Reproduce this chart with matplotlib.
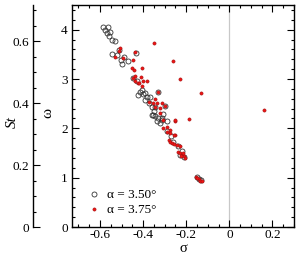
import matplotlib
matplotlib.use("Agg")
import matplotlib.pyplot as plt
import numpy as np
from matplotlib.ticker import MultipleLocator

plt.rcParams['font.family'] = ['Liberation Serif', 'DejaVu Serif']
plt.rcParams['font.size'] = 9.5

# alpha = 3.50 deg (open circles)
sigma_350 = [-0.585, -0.564, -0.575, -0.569, -0.553, -0.557, -0.546, -0.530,
             -0.546, -0.522, -0.504, -0.499, -0.433, -0.468, -0.510, -0.490,
             -0.445, -0.430, -0.414, -0.422, -0.399, -0.383, -0.367, -0.391,
             -0.375, -0.360, -0.360, -0.344, -0.329, -0.313, -0.290, -0.336,
             -0.321, -0.329, -0.344, -0.298, -0.352, -0.313, -0.406, -0.390,
             -0.350, -0.310, -0.290, -0.270, -0.260, -0.240, -0.220, -0.210,
             -0.230, -0.150, -0.140, -0.130]
omega_350 = [4.05, 4.06, 4.00, 3.93, 3.96, 3.87, 3.79, 3.78,
             3.50, 3.49, 3.38, 3.31, 3.52, 3.36, 3.58, 3.45,
             3.02, 2.95, 2.74, 2.68, 2.70, 2.64, 2.64, 2.58,
             2.51, 2.44, 2.27, 2.24, 2.20, 2.17, 2.14, 2.14,
             2.10, 2.74, 2.44, 2.45, 2.27, 2.20, 2.78, 2.72,
             2.35, 2.30, 1.95, 1.85, 1.72, 1.65, 1.55, 1.42,
             1.45, 1.02, 0.97, 0.95]

# alpha = 3.75 deg (red dots)
sigma_375 = [-0.507, -0.510, -0.530, -0.494, -0.437, -0.448, -0.452, -0.442,
             -0.403, -0.349, -0.262, -0.231, -0.130, -0.254, -0.185, 0.160,
             -0.445, -0.437, -0.426, -0.420, -0.402, -0.383, -0.406, -0.409,
             -0.440, -0.375, -0.352, -0.329, -0.336, -0.321, -0.344, -0.313,
             -0.298, -0.321, -0.306, -0.290, -0.274, -0.251, -0.251, -0.345,
             -0.306, -0.290, -0.274, -0.259, -0.282, -0.274, -0.266, -0.259,
             -0.243, -0.228, -0.236, -0.228, -0.220, -0.212, -0.205, -0.225,
             -0.215, -0.153, -0.143, -0.135, -0.126, -0.148]
omega_375 = [3.62, 3.56, 3.45, 3.42, 3.54, 3.38, 3.22, 3.18,
             3.23, 3.72, 3.37, 3.00, 2.72, 2.15, 2.18, 2.37,
             3.02, 2.95, 2.91, 2.92, 2.95, 2.95, 2.85, 3.04,
             3.06, 2.54, 2.51, 2.74, 2.52, 2.41, 2.44, 2.51,
             2.45, 2.31, 2.17, 2.03, 1.97, 1.87, 2.16, 2.60,
             2.00, 1.93, 1.90, 1.87, 1.76, 1.73, 1.70, 1.68,
             1.66, 1.64, 1.53, 1.49, 1.46, 1.43, 1.39, 1.43,
             1.51, 1.01, 0.97, 0.94, 0.94, 0.99]

W, H = 296, 254
fig = plt.figure(figsize=(W / 100, H / 100), dpi=100)

ax = fig.add_axes([72 / W, 27 / H, 222 / W, 222 / H])
ax.axvline(0, color='#c8c8c8', lw=0.9, zorder=0)
ax.plot(sigma_350, omega_350, 'o', ms=3.6, mfc='none', mec='#333333', mew=0.6,
        ls='none', label='α = 3.50°')
ax.plot(sigma_375, omega_375, 'o', ms=2.3, mfc='#f01515', mec='#a01010', mew=0.4,
        ls='none', label='α = 3.75°')

ax.set_xlim(-0.73, 0.30)
ax.set_ylim(0, 4.5)
ax.xaxis.set_minor_locator(MultipleLocator(0.05))
ax.yaxis.set_major_locator(MultipleLocator(1))
ax.yaxis.set_minor_locator(MultipleLocator(0.2))
ax.tick_params(which='both', direction='in', top=True, right=True, width=0.8)
ax.tick_params(which='major', length=5, labelsize=9.5, pad=3)
ax.tick_params(axis='x', which='major', pad=1.5)
ax.tick_params(which='minor', length=2.5)
ax.set_xticks([-0.6, -0.4, -0.2, 0, 0.2])
ax.set_xticklabels(['-0.6', '-0.4', '-0.2', '0', '0.2'])
for s in ax.spines.values():
    s.set_linewidth(1.0)
ax.legend(loc='lower left', bbox_to_anchor=(0.015, -0.005), frameon=False,
          handlelength=1.0, handletextpad=0.5, labelspacing=0.2, fontsize=9.5)

fig.text(183 / W, 1 - 248 / H, 'σ', fontsize=10.5, ha='center', va='center')
fig.text(48 / W, 1 - 113 / H, 'ω', fontsize=11, ha='center', va='center',
         rotation=90)

# Strouhal axis St = omega / (2 pi)
ax2 = fig.add_axes([33 / W, 27 / H, 30 / W, 222 / H])
ax2.patch.set_visible(False)
ax2.set_ylim(0, 4.5 / (2 * np.pi))
ax2.set_xticks([])
for k in ['top', 'bottom', 'right']:
    ax2.spines[k].set_visible(False)
ax2.spines['left'].set_linewidth(1.0)
ax2.yaxis.set_minor_locator(MultipleLocator(0.05))
ax2.set_yticks([0, 0.2, 0.4, 0.6])
ax2.set_yticklabels(['0', '0.2', '0.4', '0.6'])
ax2.tick_params(which='both', direction='in', left=True, right=False,
                labelleft=True, width=0.8)
ax2.tick_params(which='major', length=5, labelsize=9.5, pad=3)
ax2.tick_params(which='minor', length=2.5)
fig.text(12 / W, 1 - 122 / H, 'St', fontsize=11, style='italic',
         ha='center', va='center', rotation=90)

fig.savefig('out.png', dpi=100)
